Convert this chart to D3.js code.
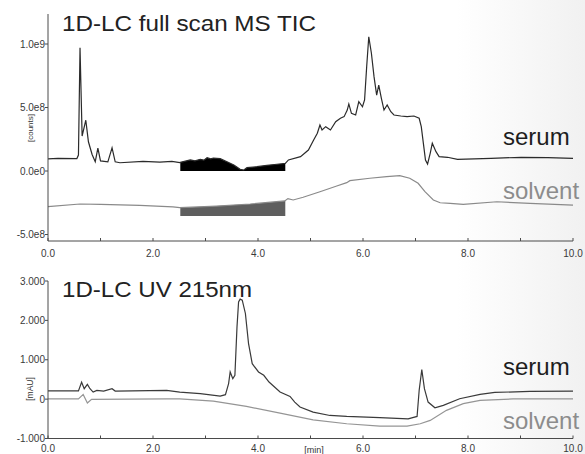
<!DOCTYPE html>
<html>
<head>
<meta charset="utf-8">
<script src="https://cdn.jsdelivr.net/npm/d3@7"></script>
<style>
  body { margin: 0; background: #fff; }
  svg { display: block; font-family: 'Liberation Sans', Arial, sans-serif; }
  .tick-label { font-size: 10px; fill: #3a3a3a; }
</style>
</head>
<body>
<svg id="chart" width="585" height="454"></svg>
<script>
// ------- Data (time in min, MS in counts, UV in mAU) -------

const msSerum = [
  [0, 0.95e8], [0.19, 1.0e8], [0.55, 0.98e8], [0.58, 1.25e8], [0.61, 9.7e8], [0.65, 2.75e8],
  [0.72, 4.0e8], [0.77, 2.3e8], [0.84, 1.3e8], [0.90, 0.73e8], [0.95, 1.8e8], [1.0, 0.8e8],
  [1.14, 0.72e8], [1.22, 1.83e8], [1.28, 0.72e8], [1.37, 0.65e8], [1.81, 0.75e8], [2.13, 0.7e8],
  [2.36, 0.75e8], [2.51, 0.66e8],
  [2.52, 0.68e8], [2.71, 0.87e8], [2.80, 0.8e8], [2.90, 0.92e8], [2.97, 0.85e8], [3.03, 1.05e8],
  [3.10, 0.95e8], [3.15, 1.02e8], [3.28, 0.97e8], [3.41, 0.73e8], [3.54, 0.47e8], [3.66, 0.13e8],
  [3.73, 0.08e8], [3.79, 0.26e8], [3.98, 0.34e8], [4.17, 0.45e8], [4.36, 0.53e8], [4.52, 0.6e8],
  [4.58, 0.87e8], [4.81, 1.13e8], [4.96, 1.65e8], [5.06, 2.44e8], [5.13, 2.97e8], [5.18, 3.62e8],
  [5.22, 3.23e8], [5.29, 3.49e8], [5.38, 3.23e8], [5.48, 3.88e8], [5.57, 4.15e8], [5.64, 4.28e8],
  [5.70, 4.8e8], [5.73, 5.28e8], [5.78, 4.54e8], [5.86, 4.41e8], [5.92, 5.46e8], [5.99, 5.06e8],
  [6.03, 5.59e8], [6.07, 8.21e8], [6.11, 10.57e8], [6.16, 9.27e8], [6.21, 7.43e8], [6.26, 5.98e8],
  [6.30, 6.77e8], [6.35, 5.72e8], [6.40, 4.8e8], [6.46, 5.2e8], [6.53, 4.67e8], [6.59, 4.41e8],
  [6.72, 4.33e8], [6.84, 4.28e8], [6.97, 4.33e8], [7.07, 4.15e8], [7.11, 3.49e8], [7.15, 2.18e8],
  [7.19, 0.87e8], [7.23, 0.55e8], [7.28, 1.39e8], [7.32, 2.18e8], [7.39, 1.52e8], [7.45, 1.13e8],
  [7.61, 1.08e8], [7.80, 0.92e8], [8.44, 1.0e8], [9.01, 1.08e8], [9.52, 1.05e8], [10.0, 1.0e8]
];

const msSolvent = [
  [0, -2.81e8], [0.61, -2.6e8], [1.0, -2.63e8], [1.75, -2.7e8], [2.38, -2.83e8], [2.51, -2.89e8],
  [3.21, -2.76e8], [3.85, -2.6e8], [4.51, -2.36e8], [4.57, -2.17e8], [4.67, -2.28e8], [4.86, -2.07e8],
  [5.18, -1.63e8], [5.50, -1.18e8], [5.69, -0.92e8], [5.75, -0.76e8], [6.13, -0.57e8], [6.45, -0.45e8],
  [6.70, -0.37e8], [6.89, -0.57e8], [7.05, -0.97e8], [7.18, -1.63e8], [7.34, -2.28e8], [7.47, -2.5e8],
  [7.66, -2.55e8], [7.91, -2.62e8], [8.55, -2.42e8], [9.18, -2.55e8], [10.0, -2.68e8]
];

// dense (unresolved) scan segment, filled down to a floor value
const msFillRange = [2.52, 4.52];
const msFillFloor = { serum: 0, solvent: -3.55e8 };

const uvSerum = [
  [0, 210], [0.58, 210], [0.64, 430], [0.69, 265], [0.75, 375], [0.80, 265], [0.86, 180],
  [0.93, 220], [1.06, 205], [1.22, 265], [1.28, 205], [2.26, 220], [2.51, 180], [2.90, 140],
  [3.28, 78], [3.38, 113], [3.44, 394], [3.47, 690], [3.52, 520], [3.56, 605], [3.60, 1835],
  [3.63, 2470], [3.66, 2540], [3.70, 2515], [3.76, 2175], [3.82, 1410], [3.89, 900], [4.01, 690],
  [4.11, 605], [4.21, 435], [4.42, 180], [4.61, 70], [4.70, -75], [4.80, -200], [5.05, -330],
  [5.37, -415], [5.69, -440], [6.32, -470], [6.86, -500], [7.03, -440], [7.07, 225], [7.12, 750],
  [7.17, 265], [7.24, -75], [7.37, -220], [7.53, -160], [7.84, 10], [8.23, 120], [8.51, 170],
  [9.18, 195], [10.0, 205]
];

const uvSolvent = [
  [0, 5], [0.58, 5], [0.67, 120], [0.75, -100], [0.83, -5], [2.26, 5], [2.51, 5], [3.15, -50],
  [3.78, -185], [4.42, -355], [5.05, -525], [5.69, -625], [6.32, -685], [6.84, -685], [7.09, -625],
  [7.28, -540], [7.59, -285], [7.91, -115], [8.23, -30], [8.86, 5], [10.0, 5]
];

const timeTicks = [0, 2, 4, 6, 8, 10];
const timeMinorTicks = [1, 3, 5, 7, 9];
const msTicks = [-5e8, 0, 5e8, 1e9];
const msTickLabels = ['-5.0e8', '0.0e0', '5.0e8', '1.0e9'];
const uvTicks = [-1000, 0, 1000, 2000, 3000];
const uvTickLabels = ['-1.000', '0', '1.000', '2.000', '3.000'];

// ------- Set up -------

const svg = d3.select('#chart');
const width = +svg.attr('width');
const height = +svg.attr('height');

const defs = svg.append('defs');
const grad = defs.append('linearGradient').attr('id', 'bg').attr('x1', 0).attr('x2', 1).attr('y1', 0).attr('y2', 0);
grad.append('stop').attr('offset', '0.78').attr('stop-color', '#ffffff');
grad.append('stop').attr('offset', '1').attr('stop-color', '#f1f1f1');
svg.append('rect').attr('width', width).attr('height', height).attr('fill', 'url(#bg)');

const x = d3.scaleLinear().domain([0, 10]).range([48, 573]);

const panel = (opts) => {
  const { top, bottom, yScale, ticks, tickLabels, unit, unitY, title, titleY, titleWidth,
          serum, solvent, serumColor, solventColor, labelY } = opts;
  const g = svg.append('g');

  // traces
  const line = d3.line().x(d => x(d[0])).y(d => yScale(d[1]));

  if (opts.fill) {
    const inRange = d => d[0] >= msFillRange[0] - 1e-6 && d[0] <= msFillRange[1] + 1e-6;
    const clip = (data) => {
      const pts = data.filter(inRange);
      const yAt = t => {
        const i = d3.bisector(d => d[0]).left(data, t);
        if (i <= 0) return data[0][1];
        const a = data[i - 1], b = data[i];
        return a[1] + (b[1] - a[1]) * (t - a[0]) / (b[0] - a[0]);
      };
      return [[msFillRange[0], yAt(msFillRange[0])], ...pts, [msFillRange[1], yAt(msFillRange[1])]];
    };
    const area = floor => d3.area().x(d => x(d[0])).y0(yScale(floor)).y1(d => yScale(d[1]));
    g.append('path').attr('d', area(msFillFloor.serum)(clip(serum))).attr('fill', '#000');
    g.append('path').attr('d', area(msFillFloor.solvent)(clip(solvent))).attr('fill', '#5e5e5e');
  }

  g.append('path').attr('d', line(solvent)).attr('fill', 'none')
    .attr('stroke', solventColor).attr('stroke-width', 1.2);
  g.append('path').attr('d', line(serum)).attr('fill', 'none')
    .attr('stroke', serumColor).attr('stroke-width', 1.2);

  // axes
  const axisColor = '#4a4a4a';
  g.append('line').attr('x1', x(0)).attr('x2', x(0)).attr('y1', top).attr('y2', bottom)
    .attr('stroke', axisColor);
  g.append('line').attr('x1', x(0)).attr('x2', x(10)).attr('y1', bottom).attr('y2', bottom)
    .attr('stroke', axisColor);

  g.selectAll('line.ytick').data(ticks).enter().append('line')
    .attr('class', 'ytick')
    .attr('x1', x(0) - 3).attr('x2', x(0))
    .attr('y1', d => yScale(d)).attr('y2', d => yScale(d))
    .attr('stroke', axisColor);
  g.selectAll('text.ylab').data(ticks).enter().append('text')
    .attr('class', 'tick-label ylab')
    .attr('x', x(0) - 3).attr('y', d => yScale(d)).attr('dy', '0.35em')
    .attr('text-anchor', 'end')
    .text((d, i) => tickLabels[i]);

  g.selectAll('line.xtick').data(timeTicks.concat(timeMinorTicks)).enter().append('line')
    .attr('class', 'xtick')
    .attr('x1', d => x(d)).attr('x2', d => x(d))
    .attr('y1', bottom).attr('y2', bottom - 3)
    .attr('stroke', axisColor);
  g.selectAll('text.xlab').data(timeTicks).enter().append('text')
    .attr('class', 'tick-label xlab')
    .attr('x', d => x(d)).attr('y', bottom + opts.xLabelDy)
    .attr('text-anchor', 'middle')
    .text(d => d.toFixed(1));

  g.append('text')
    .attr('transform', `translate(33, ${unitY}) rotate(-90)`)
    .attr('text-anchor', 'middle')
    .attr('font-size', opts.unitSize).attr('fill', '#333')
    .text(unit);

  g.append('text').attr('x', 62).attr('y', titleY)
    .attr('font-size', 22.5).attr('fill', '#222')
    .attr('textLength', titleWidth).attr('lengthAdjust', 'spacingAndGlyphs')
    .text(title);

  g.append('text').attr('x', 503).attr('y', labelY[0])
    .attr('font-size', 24).attr('fill', '#1e1e1e').text('serum');
  g.append('text').attr('x', 503).attr('y', labelY[1])
    .attr('font-size', 24).attr('fill', '#8c8c8c').text('solvent');

  return g;
};

// ------- MS TIC panel -------

const yMs = d3.scaleLinear().domain([-5e8, 1e9]).range([234.5, 44]);
panel({
  top: 14, bottom: 241, yScale: yMs, ticks: msTicks, tickLabels: msTickLabels,
  unit: '[counts]', unitY: 128, unitSize: 8,
  title: '1D-LC full scan MS TIC', titleY: 31, titleWidth: 254,
  serum: msSerum, solvent: msSolvent, serumColor: '#2b2b2b', solventColor: '#8a8a8a',
  labelY: [145, 199], fill: true, xLabelDy: 16
});

// ------- UV panel -------

const yUv = d3.scaleLinear().domain([-1000, 3000]).range([438.5, 281]);
const uv = panel({
  top: 281, bottom: 438.5, yScale: yUv, ticks: uvTicks, tickLabels: uvTickLabels,
  unit: '[mAU]', unitY: 389, unitSize: 8.5,
  title: '1D-LC UV 215nm', titleY: 297, titleWidth: 190,
  serum: uvSerum, solvent: uvSolvent, serumColor: '#3a3a3a', solventColor: '#959595',
  labelY: [375, 429], fill: false, xLabelDy: 13.5
});

uv.append('text').attr('x', 314).attr('y', 453)
  .attr('text-anchor', 'middle').attr('font-size', 9).attr('fill', '#333')
  .text('[min]');
</script>
</body>
</html>
